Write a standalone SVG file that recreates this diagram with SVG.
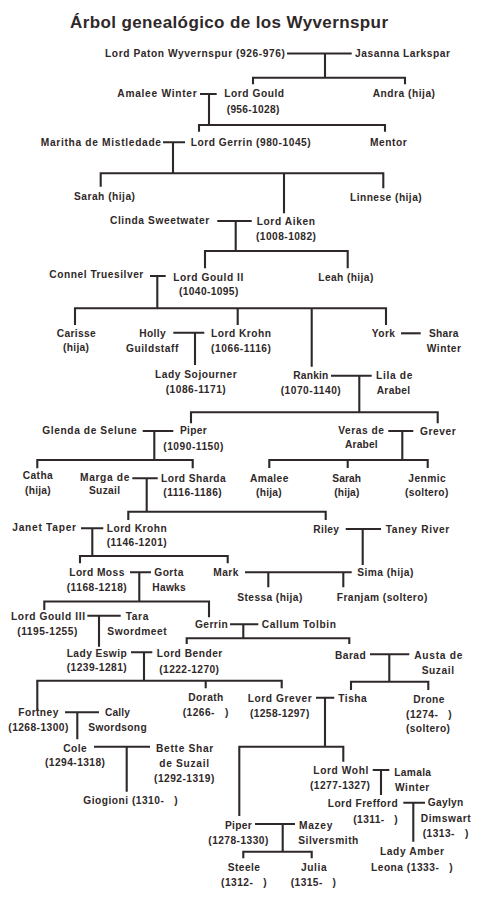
<svg xmlns="http://www.w3.org/2000/svg" width="484" height="900" viewBox="0 0 484 900">
<style>
text{font-family:"Liberation Sans",Arial,sans-serif;font-weight:bold;font-size:10.2px;fill:#2f2828}
.title{font-size:17px}
#connectors path{fill:none;stroke:#2f2828;stroke-width:2.1;stroke-linecap:butt}
</style>
<rect width="484" height="900" fill="#ffffff"/>
<text class="title" x="70" y="28" textLength="318" lengthAdjust="spacing">Árbol genealógico de los Wyvernspur</text>
<g id="connectors">
<path d="M287,53.5H351.7M325,53.5V77.7M253,84.3V77.7H405V84.3"/>
<path d="M200,94H216.7M209,94V125M199,131.7V125H385V131.7"/>
<path d="M163,142.3H185M173,142.3V173.3M100.7,186.7V173.3H383.3V188.3M284,173.3V213.3"/>
<path d="M217.3,221H251.7M235.7,221V251M205,268.3V251H347.7V268.3"/>
<path d="M150,276H165.7M157.3,276V308.3M75,325V308.3H386V325M237.7,308.3V325M311.7,308.3V366.7"/>
<path d="M173.3,332.7H204.3M195,332.7V365"/>
<path d="M401,333.3H420.7"/>
<path d="M331,375.7H371.7M359.3,375.7V412.3M191,423.3V412.3H437.7V423.3"/>
<path d="M142.7,431H173.3M154.3,431V460M37.3,468.3V460H192.7V468.3"/>
<path d="M388.3,431H413.3M402.3,431V460M269.3,468V460H427.7V468M347.7,460V468"/>
<path d="M132.3,478.3H157.7M146.7,478.3V511.7M128.3,520V511.7H325.7V520"/>
<path d="M81,528.3H103.3M92.3,528.3V556M80,563.3V556H227.7V563.3"/>
<path d="M345.7,529H381M362.7,529V565"/>
<path d="M130,572.3H151M139.3,572.3V601.5M44.3,610V601.5H209V617.3"/>
<path d="M245,572.3H351.7M268.3,572.3V587.3M343.3,572.3V587.3"/>
<path d="M87.3,615.7H120.7M99,615.7V646.7"/>
<path d="M230,624.3H258.3M243.3,624.3V638.3M186.7,644V638.3H349.3V644"/>
<path d="M131,652.3H152.3M144,652.3V680.7M37.3,710V680.7H281.7V688.3M205.7,680.7V688.3"/>
<path d="M370,654.3H409.3M389.3,654.3V681.7M351,690V681.7H428.3V690"/>
<path d="M316,697.7H334.3M325,697.7V746.7M239.3,816V746.7H343.3V761.7"/>
<path d="M65,712.3H99M77.3,712.3V739.3"/>
<path d="M94,746.7H150M126.7,746.7V791.7"/>
<path d="M372.7,770H389.3M381,770V795"/>
<path d="M403.3,802.7H425M413.3,802.7V841.7"/>
<path d="M255,824H295M282.7,824V851.7M243.3,858.3V851.7H311.7V858.3"/>
</g>
<g id="paton"><text x="105" y="57" textLength="180" lengthAdjust="spacing">Lord Paton Wyvernspur (926-976)</text></g>
<g id="jasanna"><text x="355" y="57" textLength="95" lengthAdjust="spacing">Jasanna Larkspar</text></g>
<g id="amalee-winter"><text x="117.3" y="96.7" textLength="79.4" lengthAdjust="spacing">Amalee Winter</text></g>
<g id="gould"><text x="224.3" y="97" textLength="59.7" lengthAdjust="spacing">Lord Gould</text><text x="226.7" y="112.5" textLength="52.6" lengthAdjust="spacing">(956-1028)</text></g>
<g id="andra"><text x="372.7" y="97" textLength="62.3" lengthAdjust="spacing">Andra (hija)</text></g>
<g id="maritha"><text x="40.7" y="146" textLength="120.3" lengthAdjust="spacing">Maritha de Mistledade</text></g>
<g id="gerrin"><text x="190.7" y="146.3" textLength="120" lengthAdjust="spacing">Lord Gerrin (980-1045)</text></g>
<g id="mentor"><text x="370" y="145.8" textLength="36.7" lengthAdjust="spacing">Mentor</text></g>
<g id="sarah1"><text x="74" y="199.5" textLength="61" lengthAdjust="spacing">Sarah (hija)</text></g>
<g id="linnese"><text x="350" y="200.5" textLength="71.7" lengthAdjust="spacing">Linnese (hija)</text></g>
<g id="clinda"><text x="110" y="224" textLength="99.3" lengthAdjust="spacing">Clinda Sweetwater</text></g>
<g id="aiken"><text x="256.7" y="225.3" textLength="58.3" lengthAdjust="spacing">Lord Aiken</text><text x="256" y="240" textLength="60" lengthAdjust="spacing">(1008-1082)</text></g>
<g id="connel"><text x="49.3" y="278.3" textLength="94" lengthAdjust="spacing">Connel Truesilver</text></g>
<g id="gould2"><text x="173.3" y="280.5" textLength="70" lengthAdjust="spacing">Lord Gould II</text><text x="179" y="294.5" textLength="59.3" lengthAdjust="spacing">(1040-1095)</text></g>
<g id="leah"><text x="318.3" y="281" textLength="55" lengthAdjust="spacing">Leah (hija)</text></g>
<g id="carisse"><text x="56.7" y="337.3" textLength="39" lengthAdjust="spacing">Carisse</text><text x="63" y="351" textLength="26" lengthAdjust="spacing">(hija)</text></g>
<g id="holly"><text x="139.3" y="337.3" textLength="26.4" lengthAdjust="spacing">Holly</text><text x="126" y="352" textLength="52.3" lengthAdjust="spacing">Guildstaff</text></g>
<g id="krohn1"><text x="211" y="337.3" textLength="60" lengthAdjust="spacing">Lord Krohn</text><text x="211" y="351.7" textLength="60" lengthAdjust="spacing">(1066-1116)</text></g>
<g id="york"><text x="371.7" y="337" textLength="23.3" lengthAdjust="spacing">York</text></g>
<g id="shara"><text x="429" y="337" textLength="29.3" lengthAdjust="spacing">Shara</text><text x="426.7" y="351.7" textLength="34.3" lengthAdjust="spacing">Winter</text></g>
<g id="sojourner"><text x="155" y="377.5" textLength="81.7" lengthAdjust="spacing">Lady Sojourner</text><text x="165.7" y="392.5" textLength="60" lengthAdjust="spacing">(1086-1171)</text></g>
<g id="rankin"><text x="293.3" y="379" textLength="35" lengthAdjust="spacing">Rankin</text><text x="280.7" y="393.5" textLength="60" lengthAdjust="spacing">(1070-1140)</text></g>
<g id="lila"><text x="376" y="379" textLength="36.3" lengthAdjust="spacing">Lila de</text><text x="376.7" y="393.5" textLength="33.3" lengthAdjust="spacing">Arabel</text></g>
<g id="glenda"><text x="42.3" y="434.3" textLength="94.4" lengthAdjust="spacing">Glenda de Selune</text></g>
<g id="piper1"><text x="180" y="433.5" textLength="26.7" lengthAdjust="spacing">Piper</text><text x="163.3" y="450" textLength="60" lengthAdjust="spacing">(1090-1150)</text></g>
<g id="veras"><text x="338.3" y="434.3" textLength="45.7" lengthAdjust="spacing">Veras de</text><text x="345" y="448.3" textLength="32.7" lengthAdjust="spacing">Arabel</text></g>
<g id="grever1"><text x="420" y="435" textLength="35.7" lengthAdjust="spacing">Grever</text></g>
<g id="catha"><text x="22.7" y="479.3" textLength="30" lengthAdjust="spacing">Catha</text><text x="25" y="493.5" textLength="25.7" lengthAdjust="spacing">(hija)</text></g>
<g id="marga"><text x="80" y="480.5" textLength="49.3" lengthAdjust="spacing">Marga de</text><text x="89" y="494.3" textLength="31" lengthAdjust="spacing">Suzail</text></g>
<g id="sharda"><text x="161" y="482" textLength="64.7" lengthAdjust="spacing">Lord Sharda</text><text x="163.3" y="496.3" textLength="58.4" lengthAdjust="spacing">(1116-1186)</text></g>
<g id="amalee2"><text x="250" y="481.7" textLength="38.3" lengthAdjust="spacing">Amalee</text><text x="256" y="496" textLength="25.7" lengthAdjust="spacing">(hija)</text></g>
<g id="sarah2"><text x="332.3" y="481.7" textLength="28.7" lengthAdjust="spacing">Sarah</text><text x="334.3" y="496" textLength="25" lengthAdjust="spacing">(hija)</text></g>
<g id="jenmic"><text x="408.3" y="481.7" textLength="37.4" lengthAdjust="spacing">Jenmic</text><text x="405" y="496" textLength="43.3" lengthAdjust="spacing">(soltero)</text></g>
<g id="janet"><text x="12.3" y="531" textLength="63.7" lengthAdjust="spacing">Janet Taper</text></g>
<g id="krohn2"><text x="106.7" y="531.7" textLength="60" lengthAdjust="spacing">Lord Krohn</text><text x="106.7" y="546" textLength="60" lengthAdjust="spacing">(1146-1201)</text></g>
<g id="riley"><text x="313.3" y="532.5" textLength="25.7" lengthAdjust="spacing">Riley</text></g>
<g id="taney"><text x="385.7" y="532.5" textLength="63.6" lengthAdjust="spacing">Taney River</text></g>
<g id="moss"><text x="69.3" y="575.7" textLength="55" lengthAdjust="spacing">Lord Moss</text><text x="66.7" y="590.5" textLength="60" lengthAdjust="spacing">(1168-1218)</text></g>
<g id="gorta"><text x="154.3" y="576" textLength="29" lengthAdjust="spacing">Gorta</text><text x="152.3" y="591" textLength="33.4" lengthAdjust="spacing">Hawks</text></g>
<g id="mark"><text x="213.3" y="576" textLength="25" lengthAdjust="spacing">Mark</text></g>
<g id="sima"><text x="357.3" y="576" textLength="56" lengthAdjust="spacing">Sima (hija)</text></g>
<g id="stessa"><text x="237.3" y="601" textLength="65" lengthAdjust="spacing">Stessa (hija)</text></g>
<g id="franjam"><text x="336.7" y="601" textLength="90.6" lengthAdjust="spacing">Franjam (soltero)</text></g>
<g id="gould3"><text x="11" y="620" textLength="74" lengthAdjust="spacing">Lord Gould III</text><text x="17.3" y="634.5" textLength="60" lengthAdjust="spacing">(1195-1255)</text></g>
<g id="tara"><text x="125.7" y="620" textLength="22.6" lengthAdjust="spacing">Tara</text><text x="107.3" y="634.5" textLength="59.4" lengthAdjust="spacing">Swordmeet</text></g>
<g id="gerrin2"><text x="195" y="628" textLength="32.7" lengthAdjust="spacing">Gerrin</text></g>
<g id="callum"><text x="261.7" y="628" textLength="74.3" lengthAdjust="spacing">Callum Tolbin</text></g>
<g id="eswip"><text x="66.7" y="656.5" textLength="60" lengthAdjust="spacing">Lady Eswip</text><text x="66.7" y="671" textLength="60" lengthAdjust="spacing">(1239-1281)</text></g>
<g id="bender"><text x="156.7" y="657" textLength="65.6" lengthAdjust="spacing">Lord Bender</text><text x="159.3" y="672.5" textLength="59.7" lengthAdjust="spacing">(1222-1270)</text></g>
<g id="barad"><text x="335" y="658.5" textLength="30.7" lengthAdjust="spacing">Barad</text></g>
<g id="austa"><text x="414.3" y="659" textLength="48" lengthAdjust="spacing">Austa de</text><text x="421.7" y="674" textLength="32.3" lengthAdjust="spacing">Suzail</text></g>
<g id="dorath"><text x="188.3" y="701" textLength="35" lengthAdjust="spacing">Dorath</text><text x="182.7" y="716" textLength="45.6" lengthAdjust="spacing" xml:space="preserve">(1266-   )</text></g>
<g id="grever2"><text x="247.7" y="701.5" textLength="64" lengthAdjust="spacing">Lord Grever</text><text x="250" y="716.5" textLength="59.3" lengthAdjust="spacing">(1258-1297)</text></g>
<g id="tisha"><text x="338.3" y="701.5" textLength="28.4" lengthAdjust="spacing">Tisha</text></g>
<g id="drone"><text x="413.3" y="703" textLength="31" lengthAdjust="spacing">Drone</text><text x="406" y="718" textLength="45.7" lengthAdjust="spacing" xml:space="preserve">(1274-   )</text><text x="406" y="731.5" textLength="44" lengthAdjust="spacing">(soltero)</text></g>
<g id="fortney"><text x="18.3" y="715.5" textLength="40" lengthAdjust="spacing">Fortney</text><text x="8.3" y="731" textLength="60" lengthAdjust="spacing">(1268-1300)</text></g>
<g id="cally"><text x="105" y="715.5" textLength="25" lengthAdjust="spacing">Cally</text><text x="88.3" y="731" textLength="58.4" lengthAdjust="spacing">Swordsong</text></g>
<g id="cole"><text x="63.3" y="751.7" textLength="23.4" lengthAdjust="spacing">Cole</text><text x="45" y="766" textLength="60" lengthAdjust="spacing">(1294-1318)</text></g>
<g id="bette"><text x="156" y="752" textLength="57.3" lengthAdjust="spacing">Bette Shar</text><text x="159.3" y="767.3" textLength="49.7" lengthAdjust="spacing">de Suzail</text><text x="154" y="782" textLength="60.3" lengthAdjust="spacing">(1292-1319)</text></g>
<g id="giogioni"><text x="83.3" y="804" textLength="94.4" lengthAdjust="spacing" xml:space="preserve">Giogioni (1310-   )</text></g>
<g id="wohl"><text x="313.3" y="774" textLength="55" lengthAdjust="spacing">Lord Wohl</text><text x="310" y="788.5" textLength="60" lengthAdjust="spacing">(1277-1327)</text></g>
<g id="lamala"><text x="394.3" y="775.5" textLength="36.7" lengthAdjust="spacing">Lamala</text><text x="395" y="790.5" textLength="34.3" lengthAdjust="spacing">Winter</text></g>
<g id="frefford"><text x="327.7" y="807.3" textLength="70" lengthAdjust="spacing">Lord Frefford</text><text x="353.3" y="822.5" textLength="44.4" lengthAdjust="spacing" xml:space="preserve">(1311-   )</text></g>
<g id="gaylyn"><text x="427.7" y="805.5" textLength="35.6" lengthAdjust="spacing">Gaylyn</text><text x="420.7" y="821.7" textLength="50" lengthAdjust="spacing">Dimswart</text><text x="422.7" y="836.5" textLength="45.6" lengthAdjust="spacing" xml:space="preserve">(1313-   )</text></g>
<g id="amber"><text x="380" y="855" textLength="64" lengthAdjust="spacing">Lady Amber</text><text x="371" y="871" textLength="81.7" lengthAdjust="spacing" xml:space="preserve">Leona (1333-   )</text></g>
<g id="piper2"><text x="225" y="828.5" textLength="26.7" lengthAdjust="spacing">Piper</text><text x="208.3" y="843.5" textLength="60" lengthAdjust="spacing">(1278-1330)</text></g>
<g id="mazey"><text x="299" y="829" textLength="33.3" lengthAdjust="spacing">Mazey</text><text x="298.3" y="843.5" textLength="60" lengthAdjust="spacing">Silversmith</text></g>
<g id="steele"><text x="227.7" y="871" textLength="32.3" lengthAdjust="spacing">Steele</text><text x="221" y="885.5" textLength="45.7" lengthAdjust="spacing" xml:space="preserve">(1312-   )</text></g>
<g id="julia"><text x="301" y="871" textLength="25.7" lengthAdjust="spacing">Julia</text><text x="290.7" y="885.5" textLength="45.3" lengthAdjust="spacing" xml:space="preserve">(1315-   )</text></g>
</svg>
